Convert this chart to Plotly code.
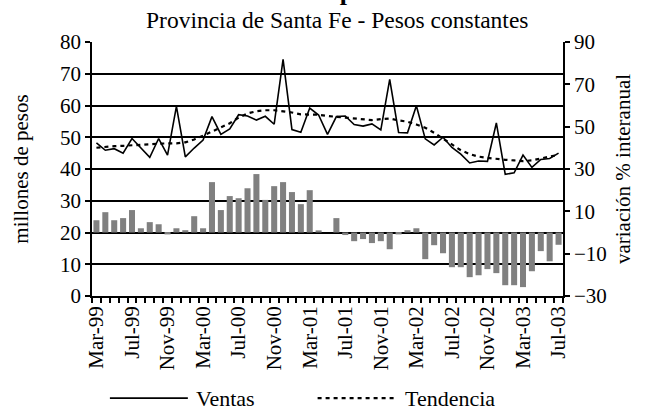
import plotly.graph_objects as go

# ---------------- data ----------------
MONTH_NAMES = ["Ene", "Feb", "Mar", "Apr", "May", "Jun", "Jul", "Aug", "Sep", "Oct", "Nov", "Dec"]
START_YEAR = 1999
START_MONTH = 3  # March
N_MONTHS = 53

months = []
for i in range(N_MONTHS):
    m = (START_MONTH - 1 + i) % 12
    y = START_YEAR + (START_MONTH - 1 + i) // 12
    months.append(f"{MONTH_NAMES[m]}-{y % 100:02d}")

tick_labels = ["Mar-99", "Jul-99", "Nov-99", "Mar-00", "Jul-00", "Nov-00", "Mar-01",
               "Jul-01", "Nov-01", "Mar-02", "Jul-02", "Nov-02", "Mar-03", "Jul-03"]

# variación % interanual (right axis, bars)
variacion = [5.8, 9.6, 5.8, 6.8, 10.6, 2.0, 4.9, 3.9, -0.9, 2.0,
             1.1, 7.7, 2.0, 23.8, 10.6, 17.2, 16.2, 20.9, 27.6, 15.4,
             21.9, 23.8, 19.1, 13.4, 20.0, 1.0, 0.0, 6.8, -1.2, -4.1,
             -3.1, -5.0, -4.1, -7.9, -0.9, 1.1, 2.0, -12.6, -6.0, -9.8,
             -16.4, -16.4, -21.1, -20.2, -17.3, -19.2, -24.9, -24.9, -25.8, -18.3,
             -8.8, -13.6, -5.8]

# Ventas, millones de pesos (left axis)
ventas = [48.2, 45.9, 46.4, 45.0, 49.6, 46.7, 43.7, 49.6, 44.4, 59.7,
          43.8, 46.6, 49.1, 56.5, 50.9, 52.6, 57.1, 56.7, 55.4, 56.6,
          54.1, 74.5, 52.4, 51.6, 59.2, 57.0, 50.9, 56.5, 56.7, 54.0,
          53.5, 54.2, 52.3, 68.2, 51.5, 51.4, 59.9, 49.5, 47.6, 50.0,
          46.8, 44.7, 41.9, 42.5, 42.4, 54.5, 38.3, 38.8, 44.4, 40.5,
          43.0, 43.3, 45.0]

# Tendencia, millones de pesos (left axis)
tendencia = [46.7, 47.0, 47.2, 47.3, 47.4, 47.6, 47.8, 48.0, 48.0, 48.1,
             48.4, 49.3, 50.5, 51.8, 53.1, 54.4, 56.2, 57.5, 58.2, 58.5,
             58.5, 58.2, 57.8, 57.2, 57.1, 57.1, 56.7, 56.4, 56.2, 56.0,
             55.7, 55.4, 55.7, 55.9, 55.3, 54.9, 54.0, 53.0, 51.4, 49.5,
             47.6, 45.9, 44.7, 43.9, 43.5, 43.1, 42.9, 42.7, 42.5, 42.7,
             43.2, 43.9, 44.5]

# ---------------- figure ----------------
FONT = "Liberation Serif"
FS = 22
TENDENCIA_DASH = "4px,4px"

fig = go.Figure()

fig.add_trace(go.Bar(
    x=months, y=variacion, yaxis="y", marker=dict(color="#808080", line=dict(width=0)),
    showlegend=False, name="Variación % interanual",
))
fig.add_trace(go.Scatter(
    x=months, y=ventas, yaxis="y2", mode="lines", name="Ventas",
    line=dict(color="black", width=1.6), showlegend=False,
))
fig.add_trace(go.Scatter(
    x=months, y=tendencia, yaxis="y2", mode="lines", name="Tendencia",
    line=dict(color="black", width=2.2, dash=TENDENCIA_DASH), showlegend=False,
))

ticktext = [m if m in tick_labels else "" for m in months]

# legend drawn as keys (line samples) and labels below the plot
LEG_Y = -0.402
legend_shapes = [
    dict(type="line", xref="paper", yref="paper", x0=0.038, x1=0.2035, y0=LEG_Y, y1=LEG_Y,
         line=dict(color="black", width=1.6)),
    dict(type="line", xref="paper", yref="paper", x0=0.479, x1=0.642, y0=LEG_Y, y1=LEG_Y,
         line=dict(color="black", width=2.2, dash=TENDENCIA_DASH)),
]
legend_texts = [
    dict(text="Ventas", xref="paper", yref="paper", x=0.217, y=LEG_Y,
         xanchor="left", yanchor="middle", showarrow=False, font=dict(size=FS)),
    dict(text="Tendencia", xref="paper", yref="paper", x=0.66, y=LEG_Y,
         xanchor="left", yanchor="middle", showarrow=False, font=dict(size=FS)),
]

fig.update_layout(
    width=655, height=414,
    margin=dict(l=92, r=92, t=42, b=118),
    paper_bgcolor="white", plot_bgcolor="white",
    font=dict(family=FONT, size=FS, color="black"),
    bargap=0.32,
    showlegend=False,
    xaxis=dict(
        type="category", categoryorder="array", categoryarray=months,
        tickmode="array", tickvals=months, ticktext=ticktext,
        tickson="boundaries", ticks="outside", ticklen=5, tickwidth=1.5, tickcolor="black",
        tickangle=-90, showline=True, linecolor="black", linewidth=1.5,
        showgrid=False, tickfont=dict(size=FS - 1), range=[-0.5, N_MONTHS - 0.5],
    ),
    yaxis=dict(
        side="right", range=[-30, 90], tickvals=[-30, -10, 10, 30, 50, 70, 90],
        ticks="outside", ticklen=5, tickwidth=1.5, tickcolor="black",
        showline=True, linecolor="black", linewidth=1.5, showgrid=False, zeroline=False,
        title=dict(text="variación % interanual", font=dict(size=FS - 1), standoff=10),
        tickfont=dict(size=FS - 1),
    ),
    yaxis2=dict(
        side="left", overlaying="y", range=[0, 80], dtick=10,
        ticks="outside", ticklen=5, tickwidth=1.5, tickcolor="black",
        showline=True, linecolor="black", linewidth=1.5,
        showgrid=True, gridcolor="black", gridwidth=1.5, zeroline=False,
        title=dict(text="millones de pesos", font=dict(size=FS - 1), standoff=26),
        tickfont=dict(size=FS - 1),
    ),
    shapes=legend_shapes,
    annotations=[
        dict(text="<b>Ventas en supermercados</b>", xref="paper", yref="paper",
             x=0.532, y=1.197, xanchor="center", yanchor="middle", showarrow=False,
             font=dict(size=26)),
        dict(text="Provincia de Santa Fe - Pesos constantes", xref="paper", yref="paper",
             x=0.52, y=1.088, xanchor="center", yanchor="middle", showarrow=False,
             font=dict(size=23.5)),
    ] + legend_texts,
)

fig.write_html("out.html", config={"displayModeBar": False},
               post_script="document.body.style.margin='0';")
